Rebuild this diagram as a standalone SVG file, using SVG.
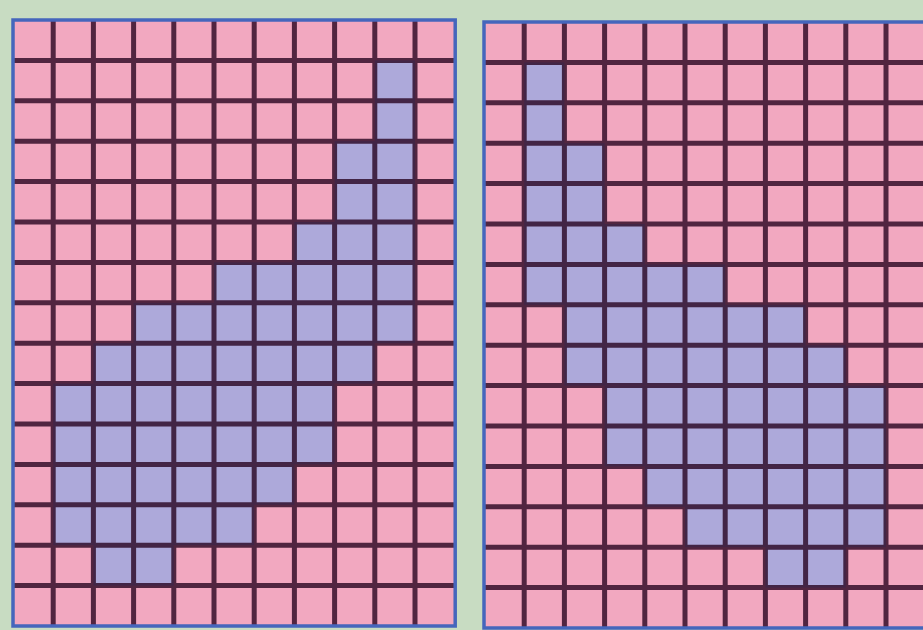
<svg xmlns="http://www.w3.org/2000/svg" width="923" height="630" viewBox="0 0 923 630">
<style>
.bg{fill:#c8dcc2}
.pink{fill:#f2a8c0}
.blue{fill:#ada9da}
.lines{fill:none;stroke:#24001c;stroke-opacity:0.78;stroke-width:5}
.border{fill:none;stroke:#4566bc;stroke-width:3.5}
</style>
<rect class="bg" x="0" y="0" width="923" height="630"/>
<g id="left-grid">
<rect class="pink" x="13" y="20" width="442.2" height="606"/>
<rect class="blue" x="374.8" y="60.4" width="40.2" height="80.8"/>
<rect class="blue" x="334.6" y="141.2" width="80.4" height="80.8"/>
<rect class="blue" x="294.4" y="222" width="120.6" height="40.4"/>
<rect class="blue" x="214" y="262.4" width="201" height="40.4"/>
<rect class="blue" x="133.6" y="302.8" width="281.4" height="40.4"/>
<rect class="blue" x="93.4" y="343.2" width="281.4" height="40.4"/>
<rect class="blue" x="53.2" y="383.6" width="281.4" height="80.8"/>
<rect class="blue" x="53.2" y="464.4" width="241.2" height="40.4"/>
<rect class="blue" x="53.2" y="504.8" width="201" height="40.4"/>
<rect class="blue" x="93.4" y="545.2" width="80.4" height="40.4"/>
<path class="lines" d="M53.2 20V626M93.4 20V626M133.6 20V626M173.8 20V626M214 20V626M254.2 20V626M294.4 20V626M334.6 20V626M374.8 20V626M415 20V626M13 60.4H455.2M13 100.8H455.2M13 141.2H455.2M13 181.6H455.2M13 222H455.2M13 262.4H455.2M13 302.8H455.2M13 343.2H455.2M13 383.6H455.2M13 424H455.2M13 464.4H455.2M13 504.8H455.2M13 545.2H455.2M13 585.6H455.2"/>
<rect class="border" x="13" y="20" width="442.2" height="606"/>
</g>
<g id="right-grid">
<rect class="pink" x="484" y="22" width="442.2" height="606"/>
<rect class="blue" x="524.2" y="62.4" width="40.2" height="80.8"/>
<rect class="blue" x="524.2" y="143.2" width="80.4" height="80.8"/>
<rect class="blue" x="524.2" y="224" width="120.6" height="40.4"/>
<rect class="blue" x="524.2" y="264.4" width="201" height="40.4"/>
<rect class="blue" x="564.4" y="304.8" width="241.2" height="40.4"/>
<rect class="blue" x="564.4" y="345.2" width="281.4" height="40.4"/>
<rect class="blue" x="604.6" y="385.6" width="281.4" height="80.8"/>
<rect class="blue" x="644.8" y="466.4" width="241.2" height="40.4"/>
<rect class="blue" x="685" y="506.8" width="201" height="40.4"/>
<rect class="blue" x="765.4" y="547.2" width="80.4" height="40.4"/>
<path class="lines" d="M524.2 22V628M564.4 22V628M604.6 22V628M644.8 22V628M685 22V628M725.2 22V628M765.4 22V628M805.6 22V628M845.8 22V628M886 22V628M484 62.4H926.2M484 102.8H926.2M484 143.2H926.2M484 183.6H926.2M484 224H926.2M484 264.4H926.2M484 304.8H926.2M484 345.2H926.2M484 385.6H926.2M484 426H926.2M484 466.4H926.2M484 506.8H926.2M484 547.2H926.2M484 587.6H926.2"/>
<rect class="border" x="484" y="22" width="442.2" height="606"/>
</g>
</svg>
